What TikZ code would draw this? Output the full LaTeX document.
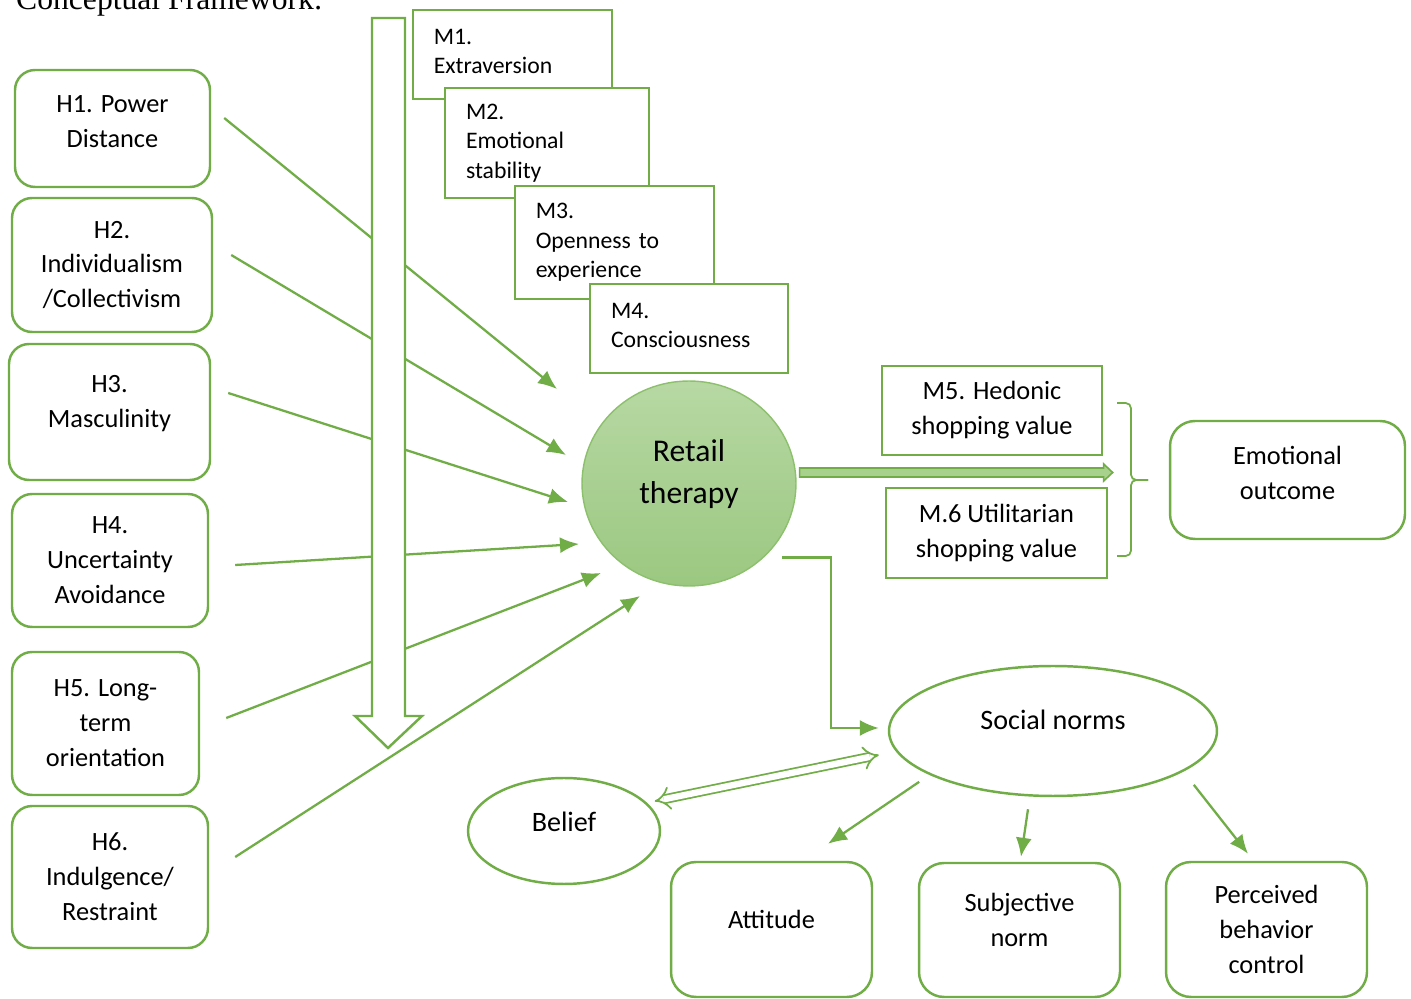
\documentclass[tikz,border=0pt]{standalone}
\usepackage{fontspec}
\setmainfont{Carlito}
\newfontfamily\titlefont{Liberation Serif}
\usetikzlibrary{shapes}
\usetikzlibrary{arrows}
\usetikzlibrary{arrows.meta}
\usetikzlibrary{positioning}
\definecolor{grn}{HTML}{70AD47}
\definecolor{rtop}{HTML}{B7D8A3}
\definecolor{rbot}{HTML}{9BC881}
\definecolor{rline}{HTML}{8CC06C}
\definecolor{flowfill}{HTML}{A9D18E}
\newcommand{\lift}[1]{\rule[-#1]{0pt}{#1}}

\begin{document}
\begin{tikzpicture}[x=0.02cm,y=-0.02cm,
  every node/.style={font=\fontsize{15}{19.9}\selectfont},
  hbox/.style={draw=grn, line width=1.4pt, rounded corners=0.4cm, fill=white, align=center, inner sep=0},
  rbox/.style={hbox, rounded corners=0.5cm},
  mbox/.style={draw=grn, line width=1.4pt, fill=white, align=left, text width=3.15cm, inner xsep=0.42cm, inner ysep=0,
    font=\fontsize{13.5}{16.8}\selectfont},
  vbox/.style={draw=grn, line width=1.4pt, fill=white, align=center, inner sep=0},
  oval/.style={ellipse, draw=grn, line width=1.4pt, fill=white, inner sep=0, font=\fontsize{16}{20}\selectfont},
  link/.style={draw=grn, line width=1.3pt, -{Latex[length=0.38cm,width=0.32cm]}},
  dbl/.style={draw=grn, line width=1pt, double=white, double distance=3.6pt, {Implies}-{Implies}}]
  \useasboundingbox (0,0) rectangle (1411,999);
  \node[anchor=base west, font=\titlefont\fontsize{18}{22}\selectfont] (title) at (10,10) {Conceptual Framework:};

  \node[hbox, minimum width=3.9cm, minimum height=2.34cm] (h1) at (112.5,128.5) {H1. Power\\Distance\lift{0.28cm}};
  \node[hbox, minimum width=4cm, minimum height=2.68cm] (h2) at (112,265) {H2.\\Individualism\\/Collectivism};
  \node[hbox, minimum width=4.02cm, minimum height=2.72cm] (h3) at (109.5,412) {H3.\\Masculinity\lift{0.42cm}};
  \node[hbox, minimum width=3.92cm, minimum height=2.66cm] (h4) at (110,560.5) {H4.\\Uncertainty\\Avoidance};
  \node[hbox, minimum width=3.74cm, minimum height=2.86cm] (h5) at (105.5,723.5) {H5. Long-\\term\\orientation};
  \node[hbox, minimum width=3.92cm, minimum height=2.84cm] (h6) at (110,877) {H6.\\Indulgence/\\Restraint};

  \coordinate (a1) at (557,389);
  \coordinate (a2) at (566,455);
  \coordinate (a3) at (568,502);
  \coordinate (a4) at (579,544);
  \coordinate (a5) at (601,573);
  \coordinate (a6) at (640,596);
  \foreach \i/\dx/\dy in {1/13/-10.5, 2/18/-10, 3/17/-19, 4/26/4.5, 5/26/-5.5, 6/26/-20}
    \draw[link] ([shift={(\dx,\dy)}]h\i.east) -- (a\i);

  \draw[grn, line width=1.4pt, fill=white] (372,18) -- (405,18) -- (405,716) -- (422,716) -- (388,748) -- (355,716) -- (372,716) -- cycle;

  \node[mbox, minimum height=1.78cm] (m1) at (512.5,54.5) {M1.\\Extraversion\lift{0.12cm}};
  \node[mbox, text width=3.24cm, minimum height=2.2cm] (m2) at (547,143) {M2.\\Emotional\\stability};
  \node[mbox, minimum height=2.26cm] (m3) at (614.5,242.5) {M3.\\Openness to\\experience};
  \node[mbox, text width=3.12cm, minimum height=1.78cm] (m4) at (689,328.5) {M4.\\Consciousness\lift{0.12cm}};

  \node[ellipse, minimum width=4.28cm, minimum height=4.1cm, top color=rtop, bottom color=rbot, draw=rline, line width=0.8pt,
    align=center, font=\fontsize{18}{24}\selectfont] (rt) at (689,483.5) {Retail\\therapy\lift{0.47cm}};

  \draw[grn, line width=0.9pt, fill=flowfill] ([shift={(3,-11)}]rt.east) -- ++(0,-4.5) -- ++(304,0) -- ++(0,-4) -- ++(9,8.5)
    -- ++(-9,8.5) -- ++(0,-4) -- ++(-304,0) -- cycle;

  \node[vbox, minimum width=4.4cm, minimum height=1.78cm] (m5) at (992,410.5) {M5. Hedonic\\shopping value};
  \node[vbox, minimum width=4.42cm, minimum height=1.8cm] (m6) at (996.5,533) {M.6 Utilitarian\\shopping value};

  \draw[grn, line width=1pt, rounded corners=3pt] (1117,403) -- (1131,403) -- (1131,480) -- (1148,480);
  \draw[grn, line width=1pt, rounded corners=3pt] (1117,556) -- (1131,556) -- (1131,480) -- (1148,480);

  \node[rbox, minimum width=4.7cm, minimum height=2.36cm] (eo) at (1287.5,480) {Emotional\\outcome\lift{0.3cm}};

  \node[oval, minimum width=6.56cm, minimum height=2.6cm] (sn) at (1053,731) {Social norms\lift{0.44cm}};
  \node[oval, minimum width=3.84cm, minimum height=2.12cm] (be) at (564,831) {Belief\lift{0.36cm}};

  \draw[link] ([shift={(17,1)}]rt.south east) -- ++(49,0) |- ([shift={(-9,-3)}]sn.west);
  \draw[dbl] ([shift={(22,8.5)}]be.north east) -- ([shift={(-9,24)}]sn.west);

  \node[rbox, minimum width=4.02cm, minimum height=2.7cm] (at) at (771.5,929.5) {Attitude\lift{0.4cm}};
  \node[rbox, minimum width=4.02cm, minimum height=2.68cm] (sb) at (1019.5,930) {Subjective\\norm\lift{0.4cm}};
  \node[rbox, minimum width=4.02cm, minimum height=2.7cm] (pb) at (1266.5,929.5) {Perceived\\behavior\\control};

  \draw[link] ([shift={(-17,4)}]sn.south west) -- ([shift={(56.5,-17)}]at.north);
  \draw[link] ([shift={(-25,12)}]sn.south) -- ([shift={(1.5,-5)}]sb.north);
  \draw[link] ([shift={(24,7)}]sn.south east) -- ([shift={(-18.5,-7)}]pb.north);
\end{tikzpicture}
\end{document}
